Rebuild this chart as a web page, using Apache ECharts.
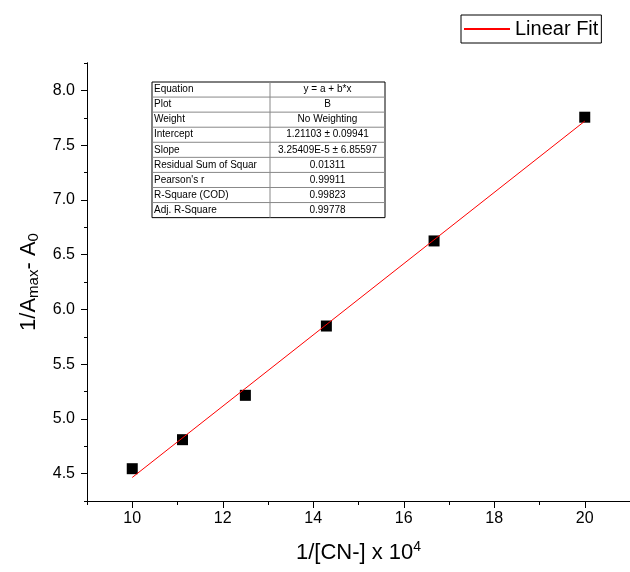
<!DOCTYPE html>
<html>
<head>
<meta charset="utf-8">
<script src="https://cdn.jsdelivr.net/npm/echarts@6/dist/echarts.min.js"></script>
<style>
html,body{margin:0;padding:0;background:#fff;}
#chart{width:630px;height:572px;}
</style>
</head>
<body>
<div id="chart"></div>
<script>
// Data
var xValues = [10, 11.11, 12.5, 14.29, 16.67, 20];
var yValues = [4.545, 4.81, 5.215, 5.848, 6.625, 7.755];
var fitX = [10, 20];
var fitY = [4.465, 7.719];
var xMajorTicks = [10, 12, 14, 16, 18, 20];
var yMajorTicks = [4.5, 5.0, 5.5, 6.0, 6.5, 7.0, 7.5, 8.0];
var tableLabels = ['Equation', 'Plot', 'Weight', 'Intercept', 'Slope', 'Residual Sum of Squar', "Pearson's r", 'R-Square (COD)', 'Adj. R-Square'];
var tableValues = ['y = a + b*x', 'B', 'No Weighting', '1.21103 \u00b1 0.09941', '3.25409E-5 \u00b1 6.85597', '0.01311', '0.99911', '0.99823', '0.99778'];

var FONT = '"Liberation Sans", Arial, sans-serif';
var chart = echarts.init(document.getElementById('chart'));

var scatterData = xValues.map(function (x, i) { return [x, yValues[i]]; });
var fitData = fitX.map(function (x, i) { return [x, fitY[i]]; });

// Table graphic
var tLeft = 152, tTop = 82, tRight = 385, tDiv = 270, rowH = 15.07;
var g = [];
g.push({type: 'rect', shape: {x: tLeft, y: tTop, width: tRight - tLeft, height: rowH * tableLabels.length},
  style: {fill: '#fff', stroke: '#000', lineWidth: 1}, z: 100});
g.push({type: 'line', shape: {x1: tDiv, y1: tTop, x2: tDiv, y2: tTop + rowH * tableLabels.length},
  style: {stroke: '#888', lineWidth: 1}, z: 101});
for (var i = 0; i < tableLabels.length; i++) {
  if (i > 0) {
    g.push({type: 'line', shape: {x1: tLeft, y1: tTop + rowH * i, x2: tRight, y2: tTop + rowH * i},
      style: {stroke: '#888', lineWidth: 1}, z: 101});
  }
  g.push({type: 'text', x: tLeft + 2, y: tTop + rowH * i + rowH / 2,
    style: {text: tableLabels[i], font: '10px ' + FONT, fill: '#000', verticalAlign: 'middle', align: 'left'}, z: 102});
  g.push({type: 'text', x: (tDiv + tRight) / 2, y: tTop + rowH * i + rowH / 2,
    style: {text: tableValues[i], font: '10px ' + FONT, fill: '#000', verticalAlign: 'middle', align: 'center'}, z: 102});
}

var axisLineStyle = {show: true, lineStyle: {color: '#000', width: 1}};

chart.setOption({
  backgroundColor: '#fff',
  animation: false,
  textStyle: {fontFamily: FONT},
  grid: {left: 87, right: 0, top: 63, bottom: 71, containLabel: false},
  legend: {
    left: 461, top: 15,
    data: [{name: 'Linear Fit', icon: 'path://M0,0 L1,0 L1,0.04 L0,0.04 Z'}],
    itemWidth: 46, itemHeight: 2, itemGap: 5,
    padding: [4, 3, 4, 3],
    borderColor: '#000', borderWidth: 1,
    textStyle: {fontSize: 20, color: '#000', fontFamily: FONT, padding: [0, 0, 0, 0]}
  },
  xAxis: [
    {
      type: 'value', min: 9, max: 21, interval: 1,
      axisLine: axisLineStyle,
      axisTick: {show: true, length: 4, lineStyle: {color: '#000'}},
      axisLabel: {show: false},
      splitLine: {show: false}
    },
    {
      type: 'value', min: 9, max: 21, position: 'bottom', offset: 0,
      axisLine: axisLineStyle,
      axisTick: {show: true, length: 7, customValues: xMajorTicks, lineStyle: {color: '#000'}},
      axisLabel: {show: true, customValues: xMajorTicks, fontSize: 16, color: '#000', margin: 10, fontFamily: FONT},
      splitLine: {show: false},
      name: '1/[CN-] x 10{sup|4}',
      nameLocation: 'middle', nameGap: 39,
      nameTextStyle: {fontSize: 22, color: '#000', fontFamily: FONT,
        rich: {sup: {fontSize: 14, verticalAlign: 'top', padding: [0, 0, 11, 0], color: '#000', fontFamily: FONT}}}
    }
  ],
  yAxis: [
    {
      type: 'value', min: 4.25, max: 8.25, interval: 0.25,
      axisLine: axisLineStyle,
      axisTick: {show: true, length: 3, lineStyle: {color: '#000'}},
      axisLabel: {show: false},
      splitLine: {show: false}
    },
    {
      type: 'value', min: 4.25, max: 8.25, position: 'left', offset: 0,
      axisLine: axisLineStyle,
      axisTick: {show: true, length: 6, customValues: yMajorTicks, lineStyle: {color: '#000'}},
      axisLabel: {show: true, customValues: yMajorTicks, fontSize: 16, color: '#000', margin: 12, fontFamily: FONT,
        formatter: function (v) { return v.toFixed(1); }},
      splitLine: {show: false},
      name: '1/A{sub|max}- A{sub|0}',
      nameLocation: 'middle', nameGap: 44, nameRotate: 90,
      nameTextStyle: {fontSize: 22, color: '#000', fontFamily: FONT,
        rich: {sub: {fontSize: 15, verticalAlign: 'bottom', padding: [11, 0, 0, 0], color: '#000', fontFamily: FONT}}}
    }
  ],
  series: [
    {
      name: 'Linear Fit', type: 'line', xAxisIndex: 1, yAxisIndex: 1,
      data: fitData, symbol: 'none', showSymbol: false,
      lineStyle: {color: '#ff0000', width: 1}, itemStyle: {color: '#ff0000'},
      z: 3
    },
    {
      name: 'B', type: 'scatter', xAxisIndex: 1, yAxisIndex: 1,
      data: scatterData, symbol: 'rect', symbolSize: 11,
      itemStyle: {color: '#000', opacity: 1}, z: 2
    }
  ],
  graphic: g
});
</script>
</body>
</html>
